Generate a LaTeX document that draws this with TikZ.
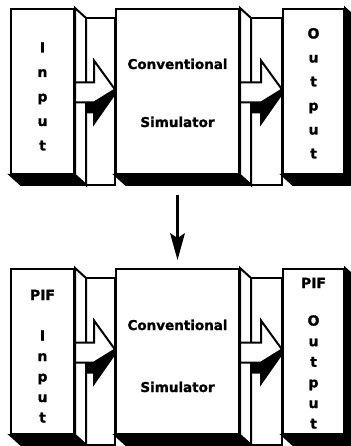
\documentclass[tikz,border=0pt]{standalone}
\usepackage{fontspec}
\setmainfont{DejaVu Sans}
\newfontfamily\heavyfont[FakeBold=1.2]{DejaVu Sans Bold}
\usetikzlibrary{calc}
\pgfdeclarelayer{background}
\pgfsetlayers{background,main}
\newcommand\sidefaces[2]{%
  \draw[#2] (#1.north east) -- ++(11,10) -- ($(#1.south east)+(11,10)$) -- (#1.south east) -- cycle;
  \draw[darkface] (#1.south west) -- (#1.south east) -- ++(11,10) -- ($(#1.south west)+(11,10)$) -- cycle;
}
\newcommand\blockarr[2]{%
  \coordinate (s) at (#1.east);
  \coordinate (e) at (#2.west);
  \draw[darkface] ($(s)+(13,11)$) -- ($(s)+(13,21)$) -- ($(e)+(-21,21)$) -- ($(e)+(-21,32)$) -- ($(e)+(0,2)$) -- ($(e)+(0,-2)$) -- ($(e)+(-21,11)$) -- cycle;
  \draw[lightface] ($(s)+(0,-9)$) -- ($(e)+(-21,-9)$) -- ($(e)+(-21,-31)$) -- ($(e)+(0,-2)$) -- ($(e)+(-21,11)$) -- ($(s)+(0,11)$) -- cycle;
}
\newcommand\backplate[2]{%
  \draw[lightface] ($(#1.north east)+(11,10)$) rectangle ($(#2.south west)+(0,10)$);
}
\begin{document}
\begin{tikzpicture}[x=1pt,y=-1pt,
  outl/.style={draw=black, line width=2pt, line join=miter},
  front/.style={outl, fill=white, anchor=north west, inner sep=0pt, minimum height=165pt},
  lightface/.style={outl, fill=white},
  darkface/.style={outl, fill=black},
  letter/.style={font=\heavyfont\fontsize{14}{14}\selectfont, anchor=base, inner sep=0pt},
  lbl/.style={font=\heavyfont\fontsize{13.5}{14}\selectfont, anchor=base, inner sep=0pt},
]
\useasboundingbox (0,0) rectangle (350,446);

% front faces
\node[front, minimum width=63pt] (inA) at (10,8) {};
\node[front, minimum width=123pt] (simA) at (115,8) {};
\node[front, minimum width=61pt] (outA) at (282,8) {};
\node[front, minimum width=63pt] (inB) at (10,268) {};
\node[front, minimum width=123pt] (simB) at (115,268) {};
\node[front, minimum width=61pt] (outB) at (282,268) {};

\begin{pgfonlayer}{background}
  \fill[white] (0,0) rectangle (350,446);
  \backplate{inA}{simA}
  \backplate{simA}{outA}
  \backplate{inB}{simB}
  \backplate{simB}{outB}
  \sidefaces{inA}{lightface}
  \sidefaces{simA}{lightface}
  \sidefaces{outA}{darkface}
  \sidefaces{inB}{lightface}
  \sidefaces{simB}{lightface}
  \sidefaces{outB}{darkface}
\end{pgfonlayer}

% block arrows
\blockarr{inA}{simA}
\blockarr{simA}{outA}
\blockarr{inB}{simB}
\blockarr{simB}{outB}

% down arrow
\coordinate (dstart) at ($(simA.south)+(0,20)$);
\coordinate (dend) at ($(simB.north)+(0,-8)$);
\draw[line width=3.8pt] (dstart) -- ($(dend)+(0,-20)$);
\fill (dend) -- ++(-7.5,-27) -- ++(7.5,5) -- ++(7.5,-5) -- cycle;

% texts
\node[lbl] (cA1) at ($(simA.north)+(0,61)$) {Conventional};
\node[lbl] (cA2) at ($(simA.north)+(0,119)$) {Simulator};
\node[lbl] (cB1) at ($(simB.north)+(0,62)$) {Conventional};
\node[lbl] (cB2) at ($(simB.north)+(0,124)$) {Simulator};

\foreach \l [count=\i] in {I,n,p,u,t}
  \node[letter] (inAl\i) at ($(inA.north)+(0,20+24.5*\i)$) {\l};
\foreach \l [count=\i] in {O,u,t,p,u,t}
  \node[letter] (outAl\i) at ($(outA.north)+(0,6.5+24*\i)$) {\l};

\node[letter] (inBp) at ($(inB.north)+(0,32)$) {PIF};
\foreach \l [count=\i] in {I,n,p,u,t}
  \node[letter] (inBl\i) at ($(inB.north)+(0,52+20.5*\i)$) {\l};
\node[letter] (outBp) at ($(outB.north)+(0,20)$) {PIF};
\foreach \l [count=\i] in {O,u,t,p,u,t}
  \node[letter] (outBl\i) at ($(outB.north)+(0,37+20.6*\i)$) {\l};
\end{tikzpicture}
\end{document}
